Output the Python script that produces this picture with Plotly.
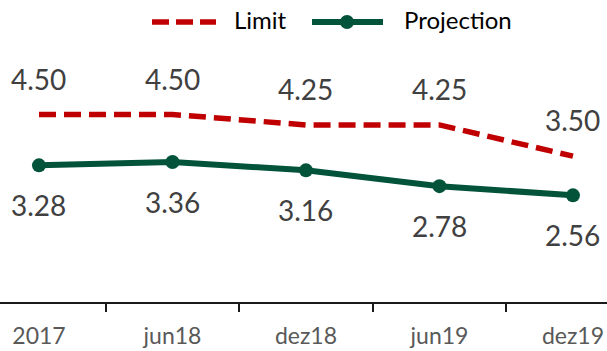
import plotly.graph_objects as go

# Periods on the x axis
periods = ["2017", "jun18", "dez18", "jun19", "dez19"]

# Series values
limit = [4.50, 4.50, 4.25, 4.25, 3.50]
projection = [3.28, 3.36, 3.16, 2.78, 2.56]

RED = "#C00000"
GREEN = "#02533A"
LABEL_GRAY = "#404040"
TICK_GRAY = "#595959"
FONT = "Lato, 'Open Sans', sans-serif"

W, H = 607, 351
M_T, M_B = 52, 49
plot_h = H - M_T - M_B

fig = go.Figure()

fig.add_trace(go.Scatter(
    x=periods, y=limit, mode="lines", name="Limit",
    line=dict(color=RED, width=5.5, dash="17px,8px"),
    showlegend=False, hoverinfo="skip",
))
fig.add_trace(go.Scatter(
    x=periods, y=projection, mode="lines+markers", name="Projection",
    line=dict(color=GREEN, width=6),
    marker=dict(color=GREEN, size=14),
    showlegend=False, hoverinfo="skip",
))

# Value labels; annotations use the category index so "2017" is not
# read as a numeric coordinate
annotations = []
for i, v in enumerate(limit):
    annotations.append(dict(
        x=i, y=v, xref="x", yref="y", text=f"{v:.2f}", showarrow=False,
        yshift=36, font=dict(family=FONT, size=28, color=LABEL_GRAY),
    ))
for i, v in enumerate(projection):
    annotations.append(dict(
        x=i, y=v, xref="x", yref="y", text=f"{v:.2f}", showarrow=False,
        yshift=-40, font=dict(family=FONT, size=28, color=LABEL_GRAY),
    ))


# Legend drawn by hand so the symbols can be as long as in the layout
def px_x(px):
    return px / W


def px_y(py):
    return (H - M_B - py) / plot_h


shapes = [
    dict(type="line", xref="paper", yref="paper",
         x0=px_x(152), x1=px_x(216), y0=px_y(22), y1=px_y(22),
         line=dict(color=RED, width=5.5, dash="17px,7px")),
    dict(type="line", xref="paper", yref="paper",
         x0=px_x(312), x1=px_x(383), y0=px_y(22), y1=px_y(22),
         line=dict(color=GREEN, width=6)),
    dict(type="circle", xref="paper", yref="paper",
         x0=px_x(340), x1=px_x(354), y0=px_y(29), y1=px_y(15),
         fillcolor=GREEN, line=dict(color=GREEN, width=0)),
]
annotations += [
    dict(x=px_x(232), y=px_y(19), xref="paper", yref="paper", text="Limit",
         showarrow=False, xanchor="left", yanchor="middle",
         font=dict(family=FONT, size=24, color="#000000")),
    dict(x=px_x(402), y=px_y(19), xref="paper", yref="paper", text="Projection",
         showarrow=False, xanchor="left", yanchor="middle",
         font=dict(family=FONT, size=24, color="#000000")),
]

fig.update_layout(
    width=W, height=H,
    margin=dict(l=0, r=0, t=M_T, b=M_B, pad=0),
    paper_bgcolor="white", plot_bgcolor="white",
    showlegend=False,
    shapes=shapes,
    annotations=annotations,
    xaxis=dict(
        type="category", range=[-0.292, 4.255],
        showgrid=False, zeroline=False,
        showline=True, linecolor="#1a1a1a", linewidth=2,
        ticks="outside", tickson="boundaries", ticklen=8, tickwidth=2,
        tickcolor="#1a1a1a", ticklabelstandoff=12,
        tickfont=dict(family=FONT, size=23, color=TICK_GRAY),
        automargin=False,
    ),
    yaxis=dict(
        range=[0, 6], visible=False, showgrid=False, zeroline=False,
        automargin=False,
    ),
)

fig.write_html("out.html")
